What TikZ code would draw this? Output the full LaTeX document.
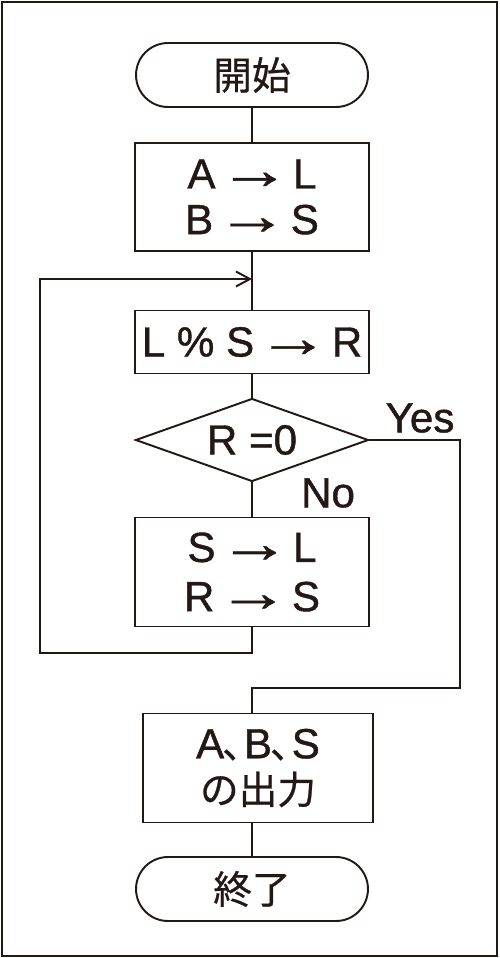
\documentclass[tikz,border=0pt]{standalone}
\usepackage{graphicx}
\usepackage{fontspec}
\setmainfont{Liberation Sans}[FakeBold=1]
\newfontfamily\jp{Noto Sans CJK JP}[FakeBold=0.6]
\usetikzlibrary{arrows.meta, shapes.geometric, positioning}
\definecolor{ink}{HTML}{231815}
\newcommand{\goes}{\kern-5pt\raisebox{0pt}[0pt][0pt]{\scalebox{1.7}[1.3]{→}}\kern-5pt}
\newcommand{\ten}{\kern-0.05em{\fontsize{22}{27}\selectfont\jp 、}\kern-0.4em}

\begin{document}
\begin{tikzpicture}[
    x=0.02cm, y=-0.02cm,
    >={Straight Barb[length=2.8mm, width=3mm]}, line width=1.1pt, draw=ink,
    every node/.style={text=ink, font=\fontsize{24}{26}\selectfont},
    terminal/.style={rectangle, rounded corners=0.64cm, draw=ink, minimum width=4.64cm, minimum height=1.28cm, inner sep=0pt, font=\fontsize{22}{25}\selectfont\jp},
    process/.style={rectangle, draw=ink, minimum width=4.68cm, align=center, inner sep=0pt},
    decision/.style={diamond, aspect=2.8, draw=ink, minimum width=4.66cm, minimum height=1.66cm, inner sep=0pt},
    answer/.style={inner sep=0pt}
]
\useasboundingbox (0,0) rectangle (500,958);
\draw (2,2) rectangle (497,956);

% Main column
\node[terminal] (start) at (252,75) {開始};
\node[process, minimum height=2.16cm] (init) at (252,197) {A \goes{} L\\B \goes{} S};
\node[process, minimum height=1.26cm] (mod) at (252,342) {L \% S \goes{} R};
\node[decision] (test) at (252,440) {R =0};
\node[process, minimum height=2.18cm] (swap) at (252,572) {S \goes{} L\\[2pt]R \goes{} S};
\node[process, minimum width=4.6cm, minimum height=2.18cm] (out) at (258,768) {A\ten B\ten S\\{\fontsize{22}{25}\selectfont\jp の出力}};
\node[terminal] (stop) at (252,889) {終了};

% Labels
\node[answer] (yes) at (420,418) {Yes};
\node[answer] (no) at (328,493) {No};

% Loop corners
\coordinate (loopbot) at (40,653);
\coordinate (looptop) at (40,279);
\coordinate (yesbend) at (460,688);

% Connections
\draw (start) -- (init);
\draw (init) -- (mod);
\draw[->] (swap.south) |- (loopbot) -- (looptop) -- (looptop -| init.south);
\draw (mod) -- (test);
\draw (test) -- (swap);
\draw (test.east) -| (yesbend) -| (out.north -| start.south);
\draw (out.south -| start.south) -- (stop);

\end{tikzpicture}
\end{document}
